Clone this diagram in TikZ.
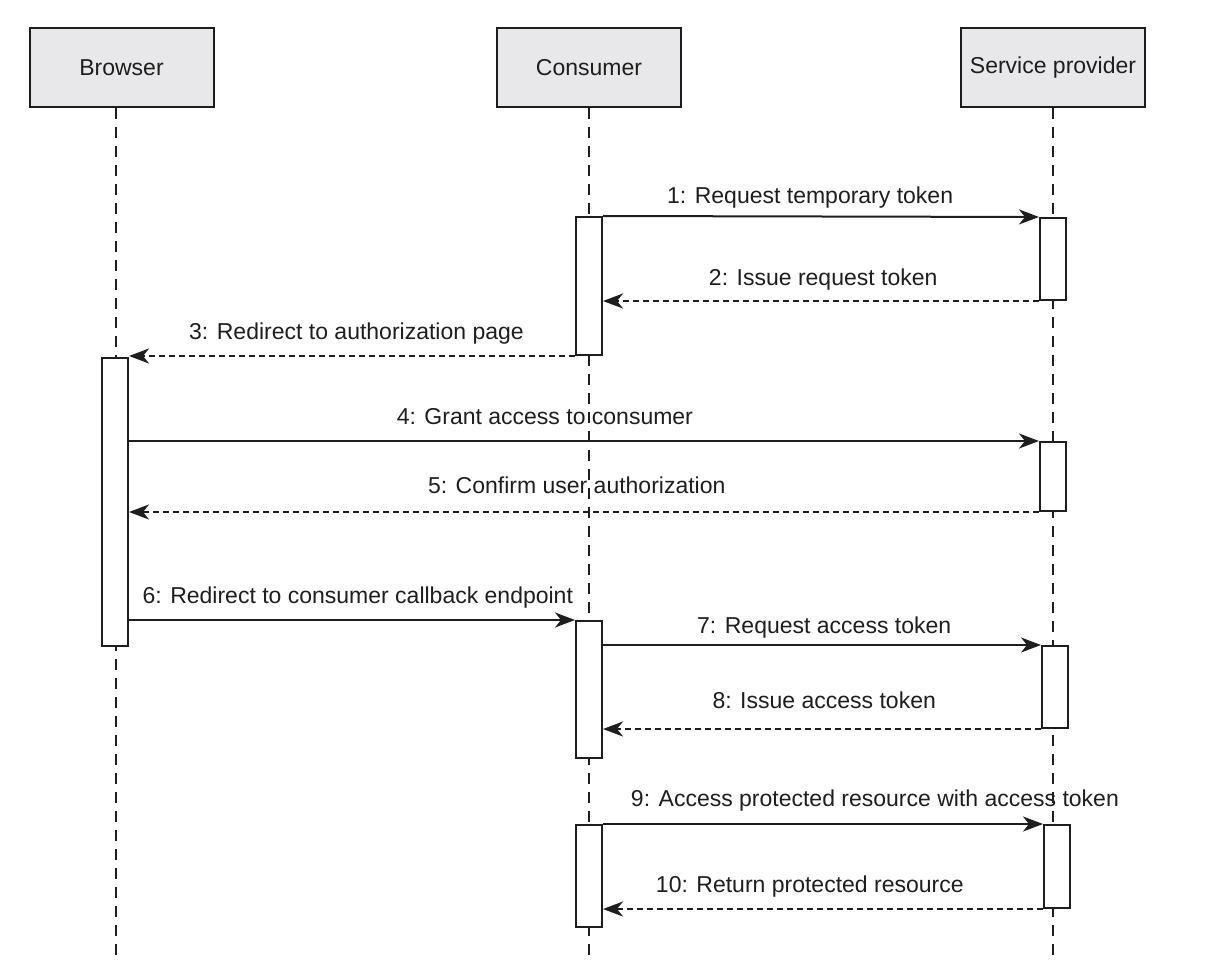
\documentclass[tikz,border=0pt]{standalone}
\usepackage{fontspec}
\setmainfont{Liberation Sans}
\usetikzlibrary{arrows.meta}
\definecolor{hdrfill}{RGB}{232,232,234}
\definecolor{ink}{RGB}{30,30,30}
\tikzset{
  hdr/.style={draw=ink, line width=2pt, fill=hdrfill, minimum width=184pt, minimum height=79pt, inner sep=0pt, font=\fontsize{23}{27}\selectfont, text=ink},
  act/.style={draw=ink, line width=2pt, fill=white, minimum width=26pt, inner sep=0pt},
  life/.style={draw=ink, line width=1.6pt, dash pattern=on 11pt off 8pt},
  callmsg/.style={draw=ink, line width=2pt, -{Stealth[length=20pt, width=15pt, inset=6pt]}},
  retmsg/.style={draw=ink, line width=2pt, dash pattern=on 6pt off 4pt, -{Stealth[length=20pt, width=15pt, inset=6pt]}},
  lbl/.style={font=\fontsize{23}{27}\selectfont, text=ink, inner sep=0pt, anchor=base}
}
\begin{document}
\begin{tikzpicture}[x=1pt,y=-1pt]
\useasboundingbox (0,0) rectangle (1216,968);
% headers
\node[hdr] (b) at (121.5,67.5) {Browser};
\node[hdr] (c) at (589,67.5) {Consumer};
\node[hdr] (s) at (1053,67.5) {Service provider};
% lifeline ends
\coordinate (bend) at (116,955);
\coordinate (cend) at (589,955);
\coordinate (send) at (1053,955);
\draw[life] (b.south -| bend) -- (bend);
\draw[life] (c.south) -- (cend);
\draw[life] (s.south) -- (send);
% activations
\node[act, minimum height=138pt] (c1) at (589,286) {};
\node[act, minimum height=82pt] (s1) at (1053,259) {};
\node[act, minimum height=288pt] (br) at (115,502) {};
\node[act, minimum height=69pt] (s2) at (1053,476.5) {};
\node[act, minimum height=137pt] (c2) at (589,689.5) {};
\node[act, minimum height=82pt] (s3) at (1055,687) {};
\node[act, minimum height=102pt] (c3) at (589,876) {};
\node[act, minimum height=83pt] (s4) at (1057,866.5) {};
% messages
\draw[callmsg] (c1.north east) -- node[lbl, pos=0.475, yshift=13pt] (m1) {1: Request temporary token} (s1.north west);
\draw[retmsg] (s1.south west) -- node[lbl, pos=0.495, yshift=15pt] (m2) {2: Issue request token} (c1.east |- s1.south);
\draw[retmsg] (c1.south west) -- node[lbl, pos=0.49, yshift=16pt] (m3) {3: Redirect to authorization page} (br.east |- c1.south);
\draw[callmsg] (br.east |- s2.north) -- node[lbl, pos=0.457, yshift=17pt] (m4) {4: Grant access to consumer} (s2.north west);
\draw[retmsg] (s2.south west) -- node[lbl, pos=0.508, yshift=19pt] (m5) {5: Confirm user authorization} (br.east |- s2.south);
\draw[callmsg] (br.east |- c2.north) -- node[lbl, pos=0.513, yshift=17pt] (m6) {6: Redirect to consumer callback endpoint} (c2.north west);
\draw[callmsg] (c2.east |- s3.north) -- node[lbl, pos=0.505, yshift=12pt] (m7) {7: Request access token} (s3.north west);
\draw[retmsg] (s3.south west) -- node[lbl, pos=0.495, yshift=21pt] (m8) {8: Issue access token} (c2.east |- s3.south);
\draw[callmsg] (c3.north east) -- node[lbl, pos=0.618, yshift=18pt] (m9) {9: Access protected resource with access token} (s4.north west);
\draw[retmsg] (s4.south west) -- node[lbl, pos=0.53, yshift=17pt] (m10) {10: Return protected resource} (c3.east |- s4.south);
\end{tikzpicture}
\end{document}
